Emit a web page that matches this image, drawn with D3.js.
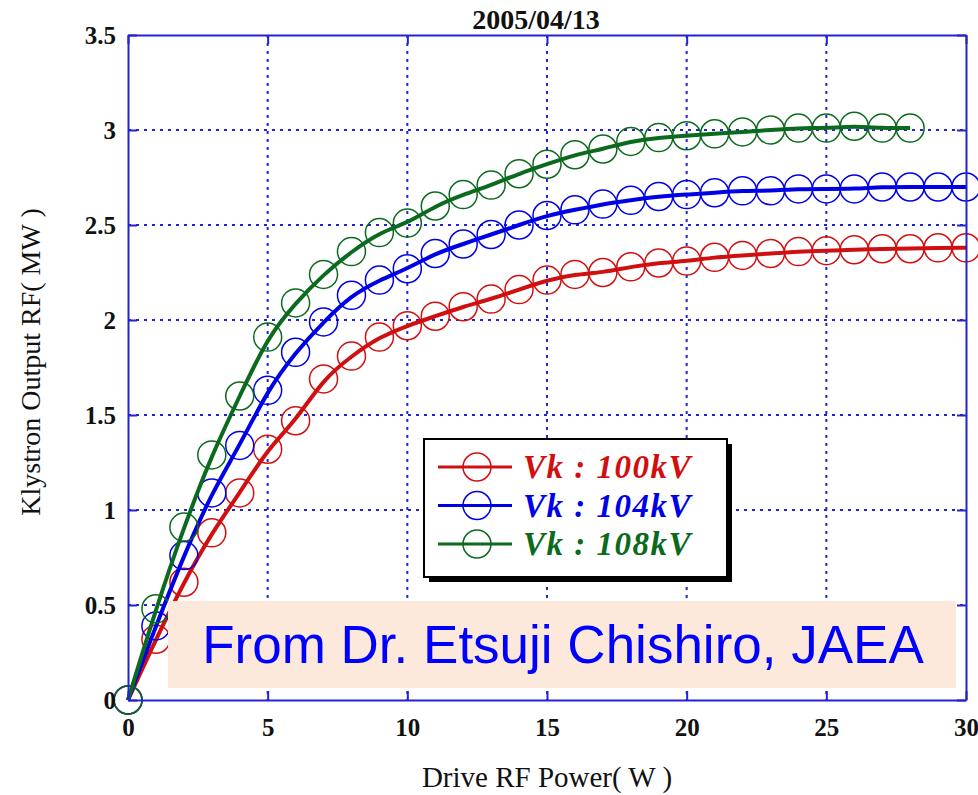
<!DOCTYPE html>
<html>
<head>
<meta charset="utf-8">
<script src="https://cdn.jsdelivr.net/npm/d3@7"></script>
<style>
  body { margin: 0; background: #fff; }
  svg { display: block; }
</style>
</head>
<body>
<div id="chart"></div>
<script>
"use strict";

// drive power (W) for each measured point
var drive = [0, 1, 2, 3, 4, 5, 6, 7, 8, 9, 10, 11, 12, 13, 14, 15, 16, 17, 18, 19,
             20, 21, 22, 23, 24, 25, 26, 27, 28, 29, 30];

// klystron output (MW)
var vk100 = [0, 0.32, 0.62, 0.88, 1.09, 1.32, 1.47, 1.69, 1.81, 1.91, 1.97, 2.02, 2.07, 2.11, 2.16,
             2.21, 2.24, 2.25, 2.28, 2.30, 2.31, 2.33, 2.34, 2.35, 2.36, 2.365, 2.37, 2.375, 2.375, 2.38, 2.38];
var vk104 = [0, 0.39, 0.76, 1.09, 1.34, 1.63, 1.83, 1.99, 2.13, 2.21, 2.27, 2.35, 2.40, 2.45, 2.50,
             2.55, 2.58, 2.61, 2.63, 2.65, 2.66, 2.67, 2.68, 2.68, 2.69, 2.69, 2.69, 2.70, 2.70, 2.70, 2.70];
var vk108 = [0, 0.48, 0.91, 1.29, 1.60, 1.91, 2.09, 2.24, 2.36, 2.46, 2.51, 2.60, 2.66, 2.71, 2.77,
             2.82, 2.87, 2.90, 2.94, 2.96, 2.97, 2.98, 2.99, 3.00, 3.01, 3.01, 3.02, 3.01, 3.01];

var seriesNames = ["Vk : 100kV", "Vk : 104kV", "Vk : 108kV"];
var seriesValues = [vk100, vk104, vk108];
var seriesColors = ["#d01010", "#0000e6", "#0b6a1e"];

var xTicks = [0, 5, 10, 15, 20, 25, 30];
var yTicks = [0, 0.5, 1, 1.5, 2, 2.5, 3, 3.5];

var W = 978, H = 795;
var plot = { left: 128, top: 35, right: 966, bottom: 700 };
var axisBlue = "#2323d0";

var x = d3.scaleLinear().domain([0, 30]).range([plot.left, plot.right]);
var y = d3.scaleLinear().domain([0, 3.5]).range([plot.bottom, plot.top]);

var svg = d3.select("#chart")
            .append("svg")
            .attr("width", W)
            .attr("height", H);

// dotted grid
svg.append("g")
    .attr("class", "grid-x")
    .selectAll("line")
    .data(xTicks.filter(d => d > 0 && d < 30))
    .join("line")
      .attr("x1", d => x(d)).attr("x2", d => x(d))
      .attr("y1", plot.top).attr("y2", plot.bottom)
      .attr("stroke", axisBlue)
      .attr("stroke-width", 2)
      .attr("stroke-dasharray", "3,5");

svg.append("g")
    .attr("class", "grid-y")
    .selectAll("line")
    .data(yTicks.filter(d => d > 0 && d < 3.5))
    .join("line")
      .attr("x1", plot.left).attr("x2", plot.right)
      .attr("y1", d => y(d)).attr("y2", d => y(d))
      .attr("stroke", axisBlue)
      .attr("stroke-width", 2)
      .attr("stroke-dasharray", "3,5");

// fitted-looking curves + circle markers
var line = d3.line()
             .x((d, i) => x(drive[i]))
             .y(d => y(d))
             .curve(d3.curveBasis);

seriesValues.forEach(function(vals, k) {
  svg.append("path")
      .datum(vals)
      .attr("d", line)
      .attr("fill", "none")
      .attr("stroke", seriesColors[k])
      .attr("stroke-width", 4);

  svg.append("g")
      .selectAll("circle")
      .data(vals)
      .join("circle")
        .attr("cx", (d, i) => x(drive[i]))
        .attr("cy", d => y(d))
        .attr("r", 14)
        .attr("fill", "none")
        .attr("stroke", seriesColors[k])
        .attr("stroke-width", 1.5);
});

// axes (ticks point inward, box on all four sides)
function styleAxis(g) {
  g.select(".domain").attr("stroke", axisBlue).attr("stroke-width", 2);
  g.selectAll(".tick line").attr("stroke", axisBlue).attr("stroke-width", 2);
  g.selectAll(".tick text")
    .attr("fill", "#111")
    .attr("font-family", "'Liberation Serif', 'Times New Roman', serif")
    .attr("font-weight", "bold")
    .attr("font-size", "25px");
}

svg.append("g")
    .attr("transform", "translate(0," + plot.bottom + ")")
    .call(d3.axisBottom(x).tickValues(xTicks).tickFormat(d3.format("d"))
            .tickSizeInner(-9).tickSizeOuter(0).tickPadding(18))
    .call(styleAxis);

svg.append("g")
    .attr("transform", "translate(" + plot.left + ",0)")
    .call(d3.axisLeft(y).tickValues(yTicks).tickFormat(d => d)
            .tickSizeInner(-9).tickSizeOuter(0).tickPadding(12))
    .call(styleAxis);

svg.append("g")
    .attr("transform", "translate(0," + plot.top + ")")
    .call(d3.axisTop(x).tickValues(xTicks).tickFormat("")
            .tickSizeInner(-9).tickSizeOuter(0))
    .call(styleAxis);

svg.append("g")
    .attr("transform", "translate(" + plot.right + ",0)")
    .call(d3.axisRight(y).tickValues(yTicks).tickFormat("")
            .tickSizeInner(-9).tickSizeOuter(0))
    .call(styleAxis);

// title and axis labels
svg.append("text")
    .attr("x", 536).attr("y", 29)
    .attr("text-anchor", "middle")
    .attr("font-family", "'Liberation Serif', serif")
    .attr("font-weight", "bold")
    .attr("font-size", "28px")
    .attr("fill", "#111")
    .text("2005/04/13");

svg.append("text")
    .attr("transform", "translate(40,362) rotate(-90)")
    .attr("text-anchor", "middle")
    .attr("font-family", "'Liberation Serif', serif")
    .attr("font-size", "28px")
    .attr("fill", "#111")
    .text("Klystron Output RF( MW )");

svg.append("text")
    .attr("x", 547).attr("y", 787)
    .attr("text-anchor", "middle")
    .attr("font-family", "'Liberation Serif', serif")
    .attr("font-size", "29px")
    .attr("fill", "#111")
    .text("Drive RF Power( W )");

// legend with drop shadow
var legend = svg.append("g").attr("id", "legend-group");
legend.append("rect")
    .attr("x", 429).attr("y", 444).attr("width", 303).attr("height", 138)
    .attr("fill", "#000");
legend.append("rect")
    .attr("x", 424).attr("y", 439).attr("width", 303).attr("height", 138)
    .attr("fill", "#fff")
    .attr("stroke", "#000")
    .attr("stroke-width", 2);

var rows = legend.selectAll("g.row")
    .data(seriesNames)
    .join("g")
      .attr("class", "row")
      .attr("transform", (d, i) => "translate(0," + (467 + i * 38.5) + ")");

rows.append("line")
    .attr("x1", 438).attr("x2", 512)
    .attr("stroke", (d, i) => seriesColors[i])
    .attr("stroke-width", 3);
rows.append("circle")
    .attr("cx", 477).attr("r", 14)
    .attr("fill", "none")
    .attr("stroke", (d, i) => seriesColors[i])
    .attr("stroke-width", 1.5);
rows.append("text")
    .attr("x", 523).attr("y", 11)
    .attr("font-family", "'Liberation Serif', serif")
    .attr("font-weight", "bold")
    .attr("font-style", "italic")
    .attr("font-size", "33px")
    .attr("letter-spacing", "1.5px")
    .attr("fill", (d, i) => seriesColors[i])
    .text(d => d);

// credit box over the lower plot
svg.append("rect")
    .attr("x", 168).attr("y", 601).attr("width", 788).attr("height", 87)
    .attr("fill", "#fce9dc");
svg.append("text")
    .attr("x", 563).attr("y", 663)
    .attr("text-anchor", "middle")
    .attr("font-family", "'Liberation Sans', Arial, sans-serif")
    .attr("font-size", "53px")
    .attr("fill", "#0000ff")
    .text("From Dr. Etsuji Chishiro, JAEA");
</script>
</body>
</html>
